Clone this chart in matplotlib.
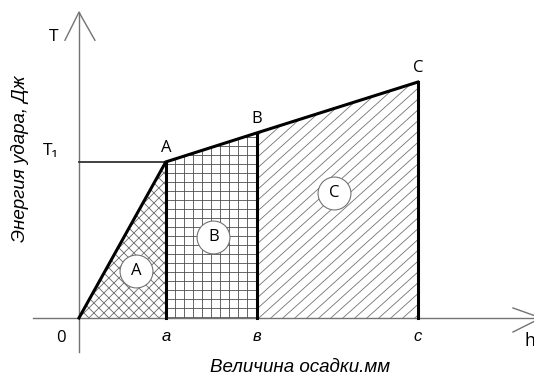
import matplotlib
matplotlib.use("Agg")
import matplotlib.pyplot as plt
import numpy as np
from matplotlib.collections import LineCollection
from matplotlib.patches import Polygon

# точки диаграммы (величина осадки, энергия удара)
point_names = ["A", "B", "C"]
h_points = [3.1, 6.35, 12.1]
T_points = [5.0, 5.93, 7.56]
T1 = 5.0
h_ticks = [3.1, 6.35, 12.1]
h_tick_labels = ["a", "в", "c"]
area_names = ["A", "B", "C"]
area_h = [2.05, 4.8, 9.1]
area_T = [1.5, 2.6, 4.0]

fig = plt.figure(figsize=(5.34, 3.76), dpi=100)
ax = fig.add_axes([0, 0, 1, 1])
ax.set_xlim(-2.82, 16.25)
ax.set_ylim(-1.86, 10.19)
ax.axis("off")

ha, hb, hc = h_points
Ta, Tb, Tc = T_points
gray = "0.45"

# масштаб: пикселей на единицу
sx = 534 / (16.25 + 2.82)
sy = 376 / (10.19 + 1.86)


def hatch(poly, angles, step_px, color):
    patch = Polygon(poly, closed=True, facecolor="none", edgecolor="none")
    ax.add_patch(patch)
    for ang in angles:
        segs = []
        if ang == 90:
            for x in np.arange(-3, 17, step_px / sx):
                segs.append([(x, -2), (x, 11)])
        elif ang == 0:
            for y in np.arange(-2, 11, step_px / sy):
                segs.append([(-3, y), (17, y)])
        else:
            k = np.tan(np.radians(ang)) * sx / sy
            for x0 in np.arange(-30, 30, step_px / sx):
                segs.append([(x0 - 20, -20 * k), (x0 + 20, 20 * k)])
        lc = LineCollection(segs, colors=color, linewidths=0.6)
        lc.set_clip_path(patch)
        ax.add_collection(lc)


# заштрихованные области
hatch([(0, 0), (ha, Ta), (ha, 0)], [45, -45], 10, "0.4")
hatch([(ha, 0), (ha, Ta), (hb, Tb), (hb, 0)], [0, 90], 9, "0.3")
hatch([(hb, 0), (hb, Tb), (hc, Tc), (hc, 0)], [42], 12, "0.45")

# оси
ax.plot([0, 0], [-1.1, 9.8], color=gray, lw=1)
ax.plot([-1.65, 16.5], [0, 0], color=gray, lw=1)
ax.plot([-0.5, 0, 0.57], [8.9, 9.8, 8.9], color=gray, lw=1)
ax.plot([15.5, 16.5, 15.5], [0.32, 0, -0.45], color=gray, lw=1)

# T1
ax.plot([0, ha], [T1, T1], color="0.2", lw=1.3)

# ломаная и вертикали
ax.plot([0] + h_points, [0] + T_points, color="black", lw=2.2, solid_joinstyle="miter")
for h, T in zip(h_points, T_points):
    ax.plot([h, h], [0, T], color="black", lw=2.2)

fnt = "Open Sans"
for name, h, T in zip(point_names, h_points, T_points):
    ax.text(h, T + 0.2, name, ha="center", va="bottom", fontsize=12, family=fnt)

for name, h, T in zip(area_names, area_h, area_T):
    ax.scatter([h], [T], s=560, facecolor="white", edgecolor=gray, linewidth=0.8, zorder=3)
    ax.text(h, T, name, ha="center", va="center", fontsize=12, family=fnt, zorder=4)

for h, lab in zip(h_ticks, h_tick_labels):
    ax.text(h, -0.35, lab, ha="center", va="top", fontsize=12, style="italic", family="Liberation Sans")

ax.text(-0.65, -0.4, "0", ha="center", va="top", fontsize=12, family=fnt)
ax.text(-0.9, 9.0, "T", ha="center", va="center", fontsize=12.5, family=fnt)
ax.text(-1.0, 5.35, "T₁", ha="center", va="center", fontsize=12.5, family=[fnt, "DejaVu Sans"])
ax.text(16.1, -0.75, "h", ha="center", va="center", fontsize=13, family=fnt)

ax.text(7.9, -1.6, "Величина осадки.мм", ha="center", va="center", fontsize=13.5,
        style="italic", family="Liberation Sans")
ax.text(-2.1, 5.1, "Энергия удара, Дж", ha="center", va="center", fontsize=13.5,
        style="italic", family="Liberation Sans", rotation=90)

fig.savefig("out.png", dpi=100)
